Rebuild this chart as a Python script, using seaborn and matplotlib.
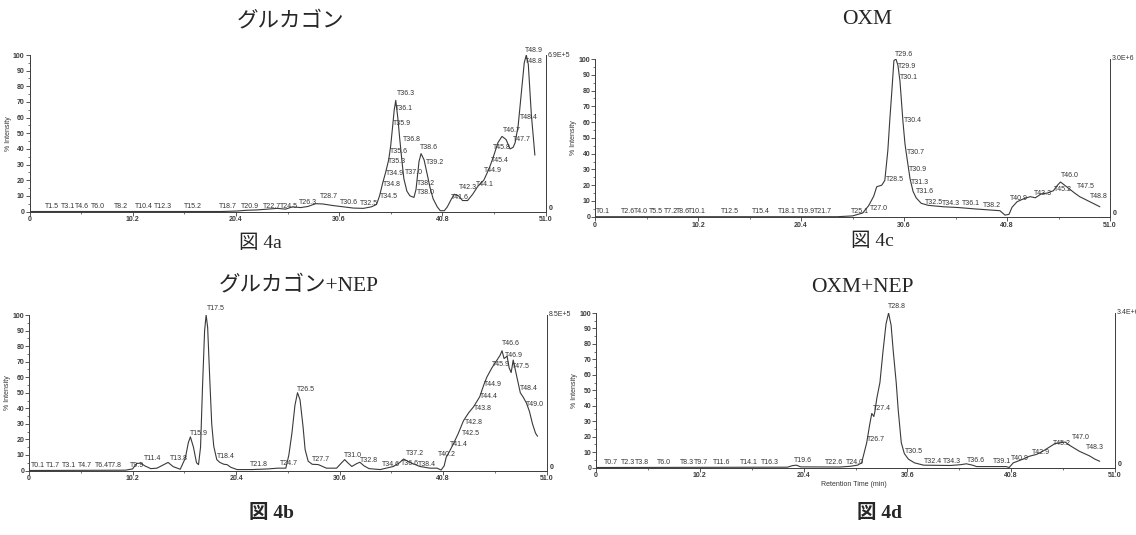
import numpy as np
import pandas as pd
import matplotlib
matplotlib.use("Agg")
import matplotlib.pyplot as plt
import seaborn as sns
from matplotlib.ticker import MultipleLocator, FixedLocator

# ---------------- data ----------------
# Panel a : Glucagon
a_rt = [0, 19, 20.5, 21.5, 22.5, 23.5, 24.5, 25.3, 26.0, 26.8, 27.5, 28.3, 29.0, 30.0, 31.0, 32.0, 33.0,
        33.8, 34.3, 34.6, 34.9, 35.2, 35.5, 35.7, 35.9, 36.05, 36.2, 36.4, 36.6, 36.8, 37.0, 37.3, 37.6,
        38.0, 38.2, 38.5, 38.7, 39.0, 39.3, 39.6, 39.9, 40.3, 40.6, 41.0, 41.3, 41.7, 42.0, 42.4, 42.8,
        43.3, 43.8, 44.3, 44.9, 45.4, 45.8, 46.3, 46.7, 47.1, 47.5, 47.8, 48.0, 48.3, 48.6, 48.9, 49.1,
        49.3, 49.6, 49.95]
a_int = [0, 0, 0.3, 0.8, 1.0, 1.5, 2.0, 1.5, 3.0, 2.5, 3.2, 5.0, 4.8, 3.8, 3.0, 2.2, 2.0,
         3.0, 4.5, 10, 18, 25, 33, 42, 55, 65, 71, 60, 46, 33, 21, 13, 10,
         9, 14, 32, 37, 33, 24, 15, 8, 3, 0.5, 0.5, 3, 8, 11, 10, 7,
         7, 11, 16, 20, 27, 34, 44, 48, 46, 40, 41, 44, 55, 75, 95, 100,
         94, 62, 36]
a_lbl_rt = [1.5, 3.1, 4.6, 6.0, 8.2, 10.4, 12.3, 15.2, 18.7, 20.9, 22.7, 24.5, 26.3, 28.7, 30.6, 32.5,
            34.5, 34.8, 34.9, 35.3, 35.6, 35.9, 36.1, 36.3, 36.8, 37.0, 38.2, 38.0, 38.6, 39.2, 41.6,
            42.3, 44.1, 44.9, 45.4, 45.8, 46.7, 47.7, 48.4, 48.8, 48.9]
a_lbl_x = [1.5, 3.1, 4.5, 6.1, 8.3, 10.4, 12.3, 15.3, 18.7, 20.9, 23.1, 24.75, 26.6, 28.7, 30.7, 32.7,
           34.6, 34.9, 35.2, 35.4, 35.6, 35.9, 36.1, 36.3, 36.9, 37.1, 38.3, 38.3, 38.6, 39.2, 41.7,
           42.4, 44.1, 44.9, 45.6, 45.8, 46.8, 47.8, 48.5, 49.0, 49.0]
a_lbl_y = [3, 3, 3, 3, 3, 3, 3, 3, 3, 3, 3, 3.5, 6, 9.5, 6, 5,
           9.5, 17.5, 24, 32, 38.5, 56, 66, 75.5, 46, 25, 18, 12, 41, 31, 9,
           15.5, 17.5, 26, 32.5, 41, 52, 45.7, 60, 96, 103]

# Panel b : Glucagon + NEP
b_rt = [0, 9.5, 10.2, 10.6, 11.0, 11.4, 12.0, 12.6, 13.2, 13.7, 14.2, 14.9, 15.4, 15.7, 15.9, 16.2, 16.5,
        16.7, 16.9, 17.1, 17.3, 17.45, 17.6, 17.8, 18.0, 18.2, 18.5, 18.8, 19.2, 19.5, 19.9, 20.5, 22.0,
        23.5, 24.5, 25.3, 25.6, 25.9, 26.2, 26.45, 26.7, 27.0, 27.2, 27.5, 27.9, 28.5, 29.3, 30.3, 30.8,
        31.1, 31.4, 31.8, 32.3, 32.6, 33.0, 33.5, 34.6, 35.9, 36.5, 36.9, 37.3, 37.6, 38.5, 39.5, 40.2,
        40.6, 40.9, 41.1, 41.4, 41.8, 42.3, 42.8, 43.3, 43.8, 44.4, 44.8, 45.1, 45.6, 46.1, 46.4, 46.6,
        46.8, 47.1, 47.3, 47.5, 47.7, 48.0, 48.4, 48.7, 49.0, 49.3, 49.6, 49.9, 50.1]
b_int = [0, 0.2, 1, 4.5, 4.8, 3, 1.2, 1.5, 3.5, 5.2, 2.5, 0.8, 8, 18, 21.6, 15, 5,
         3.8, 15, 55, 90, 100, 92, 60, 30, 15.6, 7, 5.2, 4.0, 3.8, 2, 0.6, 0.6,
         1.0, 1.5, 1.5, 10, 24, 42, 50, 45.5, 28, 13.5, 6, 4.0, 3.8, 1.5, 1.5, 5,
         7, 5, 2.6, 4.5, 5.3, 3, 1.2, 0.6, 2.6, 5, 7.4, 6, 5, 2.6, 1.5, 1.5,
         0.3, 3, 8.5, 12, 17, 24, 32, 37, 41, 47.4, 55, 60, 66, 71, 74, 77,
         72, 73.5, 66, 63, 71, 62, 50, 47, 43.4, 38, 30, 24, 22]
b_lbl_rt = [0.1, 1.7, 3.1, 4.7, 6.4, 7.8, 9.9, 11.4, 13.8, 15.9, 17.5, 18.4, 21.8, 24.7, 26.5, 27.7,
            31.0, 32.8, 34.6, 37.2, 36.6, 38.4, 40.2, 41.4, 42.5, 42.8, 43.8, 44.4, 44.9, 45.9, 46.6,
            46.9, 47.5, 48.4, 49.0]
b_lbl_x = [0.2, 1.7, 3.2, 4.8, 6.5, 7.8, 9.95, 11.3, 13.9, 15.9, 17.5, 18.5, 21.8, 24.7, 26.4, 27.85,
           31.0, 32.6, 34.8, 37.1, 36.6, 38.35, 40.3, 41.5, 42.6, 42.9, 43.8, 44.4, 44.8, 45.6, 46.6,
           46.9, 47.6, 48.4, 49.0]
b_lbl_y = [3.4, 3.4, 3.4, 3.4, 3.4, 3.4, 3.4, 7.5, 7.5, 24, 104, 9, 3.8, 4.5, 52, 7,
           9.8, 6.6, 4, 11, 4.6, 4, 10, 17, 24, 30.6, 39.6, 47.3, 55, 68, 81.4,
           74, 67, 53, 42.3]

# Panel c : OXM
c_rt = [0, 24, 25.5, 26.5, 27.1, 27.6, 27.9, 28.4, 28.7, 29.0, 29.2, 29.4, 29.6, 29.8, 30.0, 30.2,
        30.5, 30.7, 30.9, 31.2, 31.5, 31.8, 32.3, 33.0, 34.5, 36.0, 37.5, 39.0, 40.1, 40.6, 41.0,
        41.3, 41.8, 42.5, 43.1, 43.6, 44.2, 44.8, 45.4, 45.8, 46.1, 46.5, 47.0, 47.5, 48.0, 49.0, 50.0]
c_int = [0, 0, 0.5, 2.3, 7, 13, 19, 20, 23, 42, 62, 80, 99, 100, 96, 86,
         60, 46, 37, 24, 16, 12, 8.5, 7.2, 6.3, 5.8, 5.0, 4.3, 3.8, 1.0, 1.5,
         6, 9.5, 11.5, 12.7, 12, 14.5, 15, 16.5, 20, 22, 20, 17.5, 15, 12.7, 9.5, 6.3]
c_lbl_rt = [0.1, 2.6, 4.0, 5.5, 7.2, 8.6, 10.1, 12.5, 15.4, 18.1, 19.9, 21.7, 25.1, 27.0, 28.5, 29.6,
            29.9, 30.1, 30.4, 30.7, 30.9, 31.3, 31.6, 32.5, 34.3, 36.1, 38.2, 40.9, 43.3, 45.2, 46.0,
            47.5, 48.8]
c_lbl_x = [0.1, 2.6, 3.9, 5.35, 6.8, 8.0, 9.2, 12.5, 15.5, 18.1, 20.0, 21.7, 25.3, 27.2, 28.8, 29.7,
           30.0, 30.2, 30.6, 30.9, 31.1, 31.3, 31.8, 32.7, 34.4, 36.3, 38.4, 41.1, 43.5, 45.4, 46.1,
           47.7, 49.0]
c_lbl_y = [3.2, 3.2, 3.2, 3.2, 3.2, 3.2, 3.2, 3.2, 3.2, 3.2, 3.2, 3.2, 3.2, 4.9, 23.3, 103,
           95.5, 88, 61, 40.6, 30, 22, 15.7, 9, 8.4, 8.4, 7.4, 11.6, 14.8, 17, 26,
           19, 13]

# Panel d : OXM + NEP
d_rt = [0, 18.8, 19.3, 19.7, 20.1, 24, 25, 25.7, 26.1, 26.6, 26.9, 27.1, 27.3, 27.4, 27.6, 27.9, 28.2,
        28.5, 28.75, 29.0, 29.2, 29.5, 29.7, 30.0, 30.3, 30.7, 31.3, 32.2, 34.8, 35.8, 36.4, 37.0, 37.4,
        40.3, 40.6, 41.0, 41.8, 42.6, 43.3, 43.9, 44.5, 45.1, 45.6, 46.1, 46.5, 47.0, 47.5, 48.0, 48.5,
        49.0, 49.5]
d_int = [0, 0.2, 1.2, 1.5, 0.4, 0.3, 0.8, 1.5, 3, 16, 28, 35, 33, 36, 45, 55, 75,
         93, 100, 92, 76, 55, 37, 16, 9, 5.4, 3.0, 1.5, 1.3, 1.8, 2.4, 1.5, 0.6,
         0.6, 0.0, 3.0, 5, 7.3, 8.5, 10.5, 13, 15.5, 16, 16.5, 14.5, 12.5, 10.5, 9, 7.5,
         5.5, 4]
d_lbl_rt = [0.7, 2.3, 3.8, 6.0, 8.3, 9.7, 11.6, 14.1, 16.3, 19.6, 22.6, 24.0, 26.7, 27.4, 28.8, 30.5,
            32.4, 34.3, 36.6, 39.1, 40.9, 42.9, 45.2, 47.0, 48.3]
d_lbl_x = [0.8, 2.4, 3.8, 6.0, 8.25, 9.6, 11.5, 14.1, 16.2, 19.45, 22.5, 24.6, 26.6, 27.2, 28.7, 30.35,
           32.2, 34.1, 36.4, 39.0, 40.8, 42.8, 44.9, 46.8, 48.1]
d_lbl_y = [3, 3, 3, 3, 3, 3, 3.3, 3, 3, 4.5, 3, 3, 18, 38.5, 104, 10.5,
           4, 4, 4.7, 3.6, 5.7, 9.5, 15.5, 19.6, 12.7]

x_ticks = [0, 10.2, 20.4, 30.6, 40.8, 51.0]
x_tick_labels = ["0", "10.2", "20.4", "30.6", "40.8", "51.0"]
y_ticks = [0, 10, 20, 30, 40, 50, 60, 70, 80, 90, 100]
scales = ["6.9E+5", "8.5E+5", "3.0E+6", "3.4E+6"]
titles = ["グルカゴン", "グルカゴン+NEP", "OXM", "OXM+NEP"]
captions = ["図 4a", "図 4b", "図 4c", "図 4d"]

# ---------------- style ----------------
sns.set_style("ticks")
plt.rcParams['font.family'] = ['Liberation Sans', 'Noto Sans CJK JP', 'DejaVu Sans']

W, H = 1136, 535
fig = plt.figure(figsize=(W / 100, H / 100), dpi=100)

def px_rect(left, right, top, bottom):
    return [left / W, 1 - bottom / H, (right - left) / W, (bottom - top) / H]

rects = [px_rect(29.5, 545.5, 55, 211.5),
         px_rect(29, 546.7, 315, 470.5),
         px_rect(595, 1110, 59, 216.7),
         px_rect(596, 1115, 313, 467.5)]

series = [(a_rt, a_int, a_lbl_rt, a_lbl_x, a_lbl_y),
          (b_rt, b_int, b_lbl_rt, b_lbl_x, b_lbl_y),
          (c_rt, c_int, c_lbl_rt, c_lbl_x, c_lbl_y),
          (d_rt, d_int, d_lbl_rt, d_lbl_x, d_lbl_y)]

axis_col = "#3c3c3c"
text_col = "#333333"

for rect, (rt, inten, lrt, lx, ly), scale in zip(rects, series, scales):
    ax = fig.add_axes(rect)
    df = pd.DataFrame({"rt": rt, "intensity": inten})
    sns.lineplot(data=df, x="rt", y="intensity", ax=ax, color="#3a3a3a",
                 linewidth=0.8, estimator=None, sort=False)
    ax.set_xlim(0, 51)
    ax.set_ylim(0, 100)
    ax.set_xlabel("")
    ax.set_ylabel("% Intensity", fontsize=5, color=text_col, labelpad=1)
    ax.xaxis.set_major_locator(FixedLocator(x_ticks))
    ax.set_xticklabels(x_tick_labels, fontsize=5, fontweight="bold", color=text_col)
    ax.xaxis.set_minor_locator(MultipleLocator(5.1))
    ax.yaxis.set_major_locator(FixedLocator(y_ticks))
    ax.set_yticklabels([str(v) for v in y_ticks], fontsize=5, fontweight="bold", color=text_col)
    ax.yaxis.set_minor_locator(MultipleLocator(5))
    ax.tick_params(axis="both", which="major", length=3, width=0.6, pad=0.5, colors=axis_col)
    ax.tick_params(axis="both", which="minor", length=1.5, width=0.5, colors=axis_col)
    for s in ["left", "bottom", "right"]:
        ax.spines[s].set_color(axis_col)
        ax.spines[s].set_linewidth(0.7)
    ax.spines["top"].set_visible(False)
    ax.patch.set_alpha(0)
    for r, x, y in zip(lrt, lx, ly):
        ax.text(x, y, f"T{r:.1f}", fontsize=5, color=text_col, ha="left", va="center",
                clip_on=False)
    ax.text(1.004, 1.0, scale, transform=ax.transAxes, fontsize=5, color=text_col,
            ha="left", va="center")
    ax.text(1.006, 0.02, "0", transform=ax.transAxes, fontsize=5, fontweight="bold",
            color=text_col, ha="left", va="center")

# titles
fig.text(291 / W, 1 - 20 / H, titles[0], fontsize=15.5,
         family=['Noto Sans CJK JP', 'DejaVu Sans'], ha="center", va="center")
fig.text(299 / W, 1 - 285 / H, titles[1], fontsize=15.5,
         family=['Liberation Serif', 'Noto Sans CJK JP'], ha="center", va="center")
fig.text(867 / W, 1 - 20 / H, titles[2], fontsize=15.5,
         family=['Liberation Serif'], ha="center", va="center")
fig.text(862 / W, 1 - 287 / H, titles[3], fontsize=15.5,
         family=['Liberation Serif'], ha="center", va="center")

# captions
fig.text(260 / W, 1 - 243 / H, captions[0], fontsize=14,
         family=['Liberation Serif', 'Noto Sans CJK JP'], ha="center", va="center")
fig.text(872 / W, 1 - 241 / H, captions[2], fontsize=14,
         family=['Liberation Serif', 'Noto Sans CJK JP'], ha="center", va="center")
fig.text(271 / W, 1 - 513 / H, captions[1], fontsize=14, fontweight="bold",
         family=['Liberation Serif', 'Noto Sans CJK JP'], ha="center", va="center")
fig.text(879 / W, 1 - 513 / H, captions[3], fontsize=14, fontweight="bold",
         family=['Liberation Serif', 'Noto Sans CJK JP'], ha="center", va="center")

fig.text(854 / W, 1 - 485 / H, "Retention Time (min)", fontsize=5, color=text_col,
         ha="center", va="center")

fig.savefig("out.png", dpi=100, facecolor="white")
